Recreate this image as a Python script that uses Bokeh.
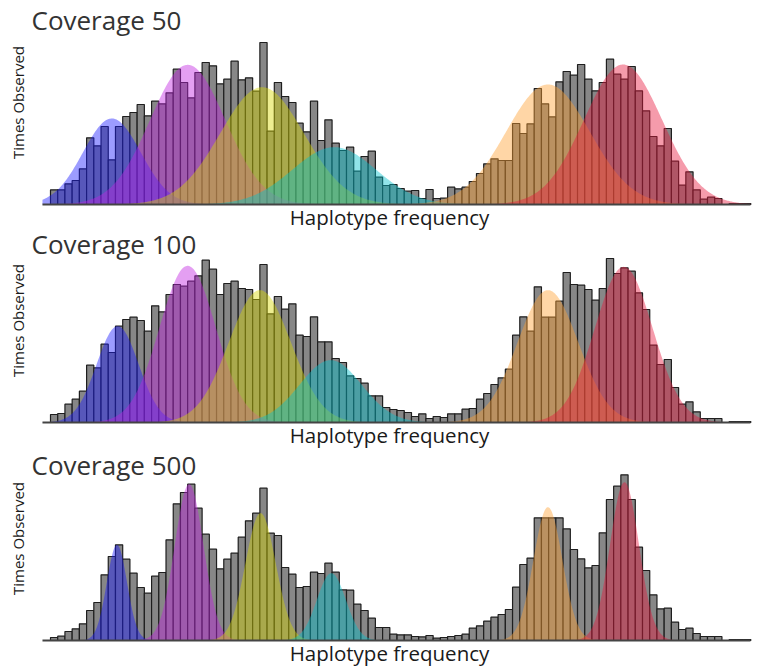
import numpy as np
from bokeh.plotting import figure
from bokeh.models import Range1d, Label
from bokeh.embed import file_html
from bokeh.resources import INLINE

# Histogram bins (bin centres 1..97 along the haplotype-frequency axis)
bins = list(range(1, 98))

# Times observed per bin, one histogram per sequencing coverage
cov50 = [44, 44, 62, 72, 107, 200, 176, 234, 134, 234,
         264, 276, 300, 266, 310, 302, 335, 406, 366, 320,
         396, 426, 416, 362, 376, 430, 374, 380, 340, 486,
         220, 366, 324, 306, 244, 218, 310, 192, 254, 184,
         162, 172, 100, 144, 160, 82, 57, 60, 48, 40,
         42, 18, 45, 18, 19, 52, 47, 52, 69, 93,
         122, 137, 132, 132, 243, 213, 242, 348, 302, 263,
         368, 399, 388, 420, 376, 341, 366, 436, 391, 376,
         414, 341, 281, 204, 176, 228, 130, 58, 98, 44,
         16, 22, 18, 0, 3, 3, 3]

cov100 = [24, 27, 55, 70, 94, 172, 164, 235, 210, 289,
          309, 316, 306, 274, 350, 332, 384, 414, 409, 424,
          440, 487, 460, 384, 417, 424, 402, 399, 369, 474,
          326, 378, 340, 356, 262, 258, 317, 242, 242, 192,
          180, 140, 132, 118, 80, 80, 45, 39, 36, 30,
          18, 26, 12, 18, 15, 26, 26, 40, 42, 70,
          87, 114, 134, 160, 262, 317, 274, 407, 316, 316,
          364, 450, 414, 412, 399, 367, 402, 492, 447, 464,
          454, 389, 339, 232, 174, 189, 105, 55, 62, 32,
          12, 12, 12, 0, 3, 3, 3]

cov500 = [9, 13, 27, 35, 50, 90, 114, 197, 252, 287,
          244, 202, 159, 142, 193, 204, 302, 410, 444, 469,
          397, 319, 274, 215, 244, 262, 310, 359, 382, 457,
          322, 315, 219, 199, 159, 162, 205, 201, 232, 205,
          152, 151, 109, 90, 67, 39, 39, 19, 17, 17,
          12, 11, 15, 7, 9, 12, 15, 19, 37, 44,
          58, 70, 78, 93, 160, 228, 247, 368, 368, 368,
          368, 335, 273, 245, 218, 225, 323, 423, 463, 497,
          423, 280, 210, 137, 95, 97, 55, 33, 37, 21,
          12, 12, 12, 0, 3, 3, 3]

# Fitted haplotype components: colour, then centre (bin units), peak and spread per coverage
comp_colors = ["#1a1aff", "#c020e0", "#d8d800", "#00c0cc", "#ffa030", "#e8183c"]
centers50 = [9.0, 19.5, 29.8, 39.8, 69.4, 79.8]
peaks50 = [258, 419, 352, 172, 360, 420]
sigma50 = [4.0, 5.2, 5.8, 5.8, 5.8, 5.4]
centers100 = [9.8, 19.5, 29.5, 39.3, 69.4, 79.9]
peaks100 = [289, 470, 397, 187, 397, 467]
sigma100 = [2.9, 3.9, 4.3, 4.3, 4.2, 4.0]
centers500 = [9.7, 19.7, 29.6, 39.4, 69.4, 80.0]
peaks500 = [287, 469, 382, 202, 400, 475]
sigma500 = [1.4, 2.0, 2.1, 2.0, 2.0, 2.0]

titles = ["Coverage 50", "Coverage 100", "Coverage 500"]
x_title = "Haplotype frequency"
y_title = "Times Observed"

FONT = "Open Sans"
W, H = 761, 668
X0, X1 = -6.425, 98.98          # frequency window across the whole canvas (bin units)
AXIS_START, AXIS_END = -0.61, 97.45
PX = 3.0                        # count units per pixel
BASELINES = [204, 422, 640]     # baseline of each strip, px from the top
TITLE_TOPS = [19, 243, 464]     # strip-title anchor, px from the top

p = figure(width=W, height=H, output_backend="svg", toolbar_location=None,
           x_range=Range1d(X0, X1), x_axis_type=None, y_axis_type=None,
           min_border=0)
p.outline_line_color = None
p.grid.visible = False
p.background_fill_color = "white"
p.border_fill_color = "white"

# one vertical range per strip so that the three histograms stack
names = ["default", "cov100", "cov500"]
ranges = [Range1d(-(H - b) * PX, b * PX) for b in BASELINES]
p.y_range = ranges[0]
p.extra_y_ranges = {names[1]: ranges[1], names[2]: ranges[2]}

strips = [
    (titles[0], cov50, centers50, peaks50, sigma50),
    (titles[1], cov100, centers100, peaks100, sigma100),
    (titles[2], cov500, centers500, peaks500, sigma500),
]

xs = np.linspace(AXIS_START, AXIS_END, 900)
for (title, counts, centers, peaks, sigmas), rname, base, ttop in zip(
        strips, names, BASELINES, TITLE_TOPS):
    # histogram bars
    p.vbar(x=bins, top=counts, width=1, fill_color="#878787",
           line_color="#1e1e1e", line_width=1.2, y_range_name=rname)
    # translucent component curves laid over the bars
    for c, mu, h, s in zip(comp_colors, centers, peaks, sigmas):
        p.varea(x=xs, y1=np.zeros_like(xs), y2=h * np.exp(-0.5 * ((xs - mu) / s) ** 2),
                fill_color=c, fill_alpha=0.43, y_range_name=rname)
    # frequency axis line
    p.segment(x0=[AXIS_START], y0=[0], x1=[AXIS_END], y1=[0], line_color="#444444",
              line_width=2, y_range_name=rname)

    # strip title, axis titles
    p.add_layout(Label(x=31, y=H - ttop, x_units="screen", y_units="screen",
                       text=title, text_font=FONT, text_font_size="26px",
                       text_baseline="alphabetic", text_color="#333333"))
    p.add_layout(Label(x=389, y=H - (base + 12), x_units="screen", y_units="screen",
                       text=x_title, text_font=FONT, text_font_size="20.5px",
                       text_align="center", text_baseline="alphabetic",
                       text_color="#1a1a1a"))
    p.add_layout(Label(x=17, y=H - (base - 102), x_units="screen", y_units="screen",
                       text=y_title, text_font=FONT, text_font_size="15px",
                       angle=np.pi / 2, text_align="center", text_baseline="middle",
                       text_color="#1a1a1a"))

open("out.html", "w").write(file_html(p, INLINE))
